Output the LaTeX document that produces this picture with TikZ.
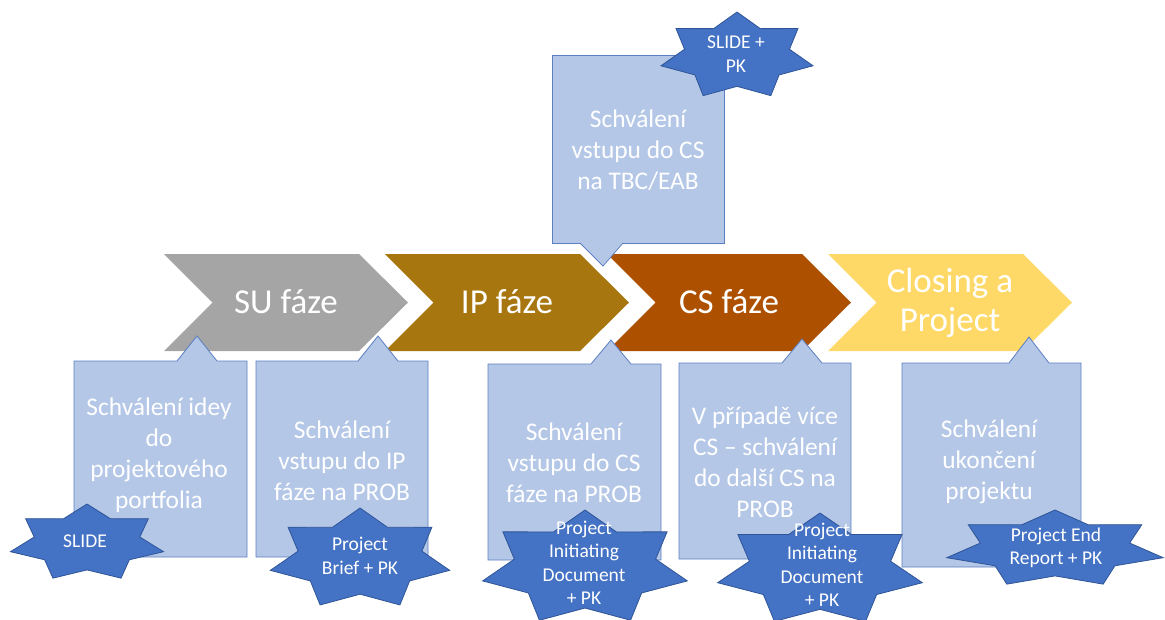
\documentclass[tikz,border=0pt]{standalone}
\usepackage{fontspec}
\setmainfont{Carlito}
\definecolor{phaseSU}{HTML}{A5A5A5}
\definecolor{phaseIP}{HTML}{A8760F}
\definecolor{phaseCS}{HTML}{AD5100}
\definecolor{phaseCL}{HTML}{FED967}
\definecolor{calloutfill}{HTML}{B4C7E7}
\definecolor{calloutline}{HTML}{5B7FC0}
\definecolor{badgefill}{HTML}{4472C4}
\definecolor{badgeline}{HTML}{2F5597}
\tikzset{
  phasetext/.style={text=white, font=\fontsize{35}{39}\selectfont, align=center, inner sep=0pt},
  callout/.style={fill=calloutfill, draw=calloutline, line width=0.8pt, line join=miter},
  callouttext/.style={text=white, font=\fontsize{25.4}{31}\selectfont, align=center, inner sep=0pt},
  badge/.style={fill=badgefill, draw=badgeline, line width=0.8pt, line join=miter},
  badgetext/.style={text=white, font=\fontsize{19.5}{23.5}\selectfont, align=center, inner sep=0pt},
}
% chevron: #1 left x, #2 colour
\newcommand\phasechevron[2]{%
  \fill[#2] (#1,254) -- ++(195,0) -- ++(49,48.5) -- ++(-49,48.5) -- ++(-195,0) -- ++(48.5,-48.5) -- cycle;}
% box with a pointer on its top edge: left, top, right, bottom, apex x, apex y
\newcommand\calloutup[6]{%
  \draw[callout] (#1,#2) -- ({#5-20},#2) -- (#5,#6) -- ({#5+20},#2) -- (#3,#2) -- (#3,#4) -- (#1,#4) -- cycle;}
% seven-pointed star: centre x, centre y, x radius, y radius
\newcommand\badgestar[4]{%
  \begin{scope}[shift={(#1,#2)}, xscale=#3, yscale=#4]
    \draw[badge] (-90:1) \foreach \i in {1,...,13}{ -- ({-90+\i*360/14}:{0.845+0.155*cos(\i*180)}) } -- cycle;
  \end{scope}}
\begin{document}
\begin{tikzpicture}[x=1pt, y=-1pt]
  \useasboundingbox (0,0) rectangle (1165,619);

  % phase arrows
  \phasechevron{164}{phaseSU}
  \phasechevron{385}{phaseIP}
  \phasechevron{607}{phaseCS}
  \phasechevron{828}{phaseCL}
  \node[phasetext] (su) at (286,302) {SU fáze};
  \node[phasetext] (ip) at (507,302) {IP fáze};
  \node[phasetext] (cs) at (729,302) {CS fáze};
  \node[phasetext] (cl) at (950,303) {Closing a\\Project};

  % approval callouts
  \draw[callout] (552,55) rectangle (724,243);
  \draw[callout] (580,243) -- (603,266) -- (623,243);
  \fill[calloutfill] (579.5,241) -- (603,264.8) -- (623.5,241) -- cycle;
  \node[callouttext] (top) at (638,150) {Schválení\\vstupu do CS\\na TBC/EAB};

  \calloutup{74}{361}{247}{557}{197}{336}
  \calloutup{256}{361}{428}{557}{378}{336}
  \calloutup{488}{364}{661}{560}{611}{340}
  \calloutup{679}{363}{851}{559}{802}{339}
  \calloutup{902}{363}{1081}{567}{1029}{337}
  \node[callouttext] (b1) at (159,455) {Schválení idey\\do\\projektového\\portfolia};
  \node[callouttext] (b2) at (342,461) {Schválení\\vstupu do IP\\fáze na PROB};
  \node[callouttext] (b3) at (574,463) {Schválení\\vstupu do CS\\fáze na PROB};
  \node[callouttext] (b4) at (765,462) {V případě více\\CS – schválení\\do další CS na\\PROB};
  \node[callouttext] (b5) at (989,462) {Schválení\\ukončení\\projektu};

  % deliverable badges
  \badgestar{737}{56}{78}{44}
  \badgestar{87}{543}{78.5}{39}
  \badgestar{360}{559}{92}{51}
  \badgestar{585}{568}{105}{58}
  \badgestar{820}{570}{105}{57}
  \badgestar{1055}{549}{111}{39}
  \node[badgetext] (s0) at (736,54) {SLIDE +\\PK};
  \node[badgetext] (s1) at (85,541) {SLIDE};
  \node[badgetext] (s2) at (360,556) {Project\\Brief + PK};
  \node[badgetext] (s3) at (584,563) {Project\\Initiating\\Document\\+ PK};
  \node[badgetext] (s4) at (822,565) {Project\\Initiating\\Document\\+ PK};
  \node[badgetext] (s5) at (1056,548) {Project End\\Report + PK};
\end{tikzpicture}
\end{document}
